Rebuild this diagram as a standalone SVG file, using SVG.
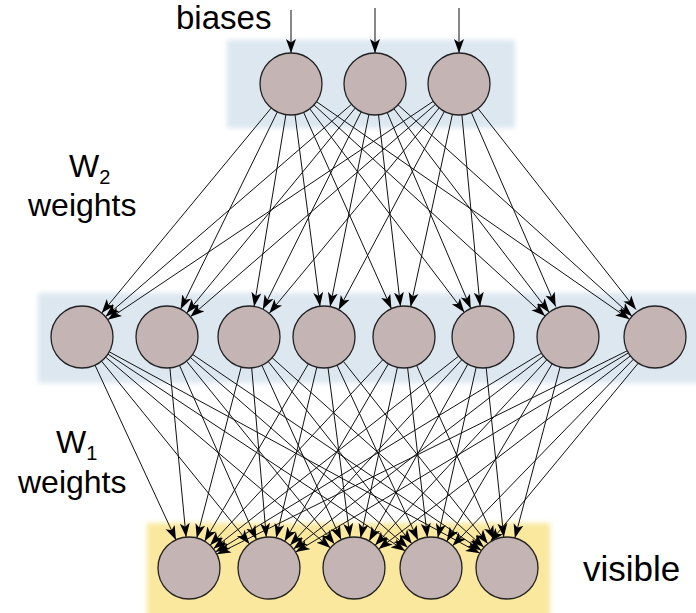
<svg xmlns="http://www.w3.org/2000/svg" width="696" height="613" viewBox="0 0 696 613">
<style>
.band-b{fill:#dce7f0}
.band-y{fill:#f9e89d}
.node{fill:#c4b4b4;stroke:#222;stroke-width:1.3}
.edge{stroke:#111;stroke-width:1;fill:none;marker-end:url(#ah)}
.lbl{font-family:"Liberation Sans",Arial,sans-serif;fill:#000}
</style>
<defs>
<filter id="soft" x="-5%" y="-10%" width="110%" height="120%"><feGaussianBlur stdDeviation="2.5"/></filter>
<marker id="ah" viewBox="0 -6 14 12" refX="14" refY="0" markerWidth="14" markerHeight="12" markerUnits="userSpaceOnUse" orient="auto">
<path d="M0,-5 L14,0 L0,5 L3.5,0 Z" fill="#000"/>
</marker>
</defs>
<g id="bands">
<rect class="band-b" x="227" y="40" width="288" height="88" filter="url(#soft)"/>
<rect class="band-b" x="38" y="293" width="665" height="90" filter="url(#soft)"/>
<rect class="band-y" x="147" y="523" width="403" height="95" filter="url(#soft)"/>
</g>
<g id="labels">
<text class="lbl" x="176" y="29" font-size="33">biases</text>
<text class="lbl" x="69" y="177" font-size="32">W<tspan font-size="20" dy="7">2</tspan></text>
<text class="lbl" x="28" y="216" font-size="32">weights</text>
<text class="lbl" x="56" y="453" font-size="32">W<tspan font-size="20" dy="7">1</tspan></text>
<text class="lbl" x="18" y="493" font-size="32">weights</text>
<text class="lbl" x="583" y="581" font-size="35">visible</text>
</g>
<g id="connectors">
<line class="edge" x1="291" y1="10" x2="291" y2="53"/>
<line class="edge" x1="375" y1="8" x2="375" y2="53"/>
<line class="edge" x1="459" y1="8" x2="459" y2="53"/>
<line class="edge" x1="271.3" y1="107.9" x2="101.7" y2="313.1"/>
<line class="edge" x1="277.4" y1="111.8" x2="180.6" y2="309.2"/>
<line class="edge" x1="285.9" y1="114.6" x2="254.1" y2="306.4"/>
<line class="edge" x1="295.0" y1="114.7" x2="320.0" y2="306.3"/>
<line class="edge" x1="303.6" y1="112.3" x2="391.4" y2="308.7"/>
<line class="edge" x1="309.7" y1="108.7" x2="464.3" y2="312.3"/>
<line class="edge" x1="313.9" y1="104.9" x2="545.1" y2="316.1"/>
<line class="edge" x1="316.5" y1="101.7" x2="629.5" y2="319.3"/>
<line class="edge" x1="351.5" y1="104.3" x2="105.5" y2="316.7"/>
<line class="edge" x1="355.3" y1="108.0" x2="186.7" y2="313.1"/>
<line class="edge" x1="361.2" y1="111.8" x2="262.8" y2="309.3"/>
<line class="edge" x1="368.9" y1="114.4" x2="330.1" y2="306.6"/>
<line class="edge" x1="378.5" y1="114.8" x2="400.5" y2="306.2"/>
<line class="edge" x1="387.2" y1="112.5" x2="470.8" y2="308.5"/>
<line class="edge" x1="393.8" y1="108.6" x2="549.2" y2="312.4"/>
<line class="edge" x1="398.0" y1="104.8" x2="632.0" y2="316.2"/>
<line class="edge" x1="433.3" y1="101.3" x2="107.7" y2="319.7"/>
<line class="edge" x1="435.6" y1="104.3" x2="190.4" y2="316.7"/>
<line class="edge" x1="439.2" y1="107.9" x2="269.3" y2="313.2"/>
<line class="edge" x1="444.4" y1="111.4" x2="338.6" y2="309.7"/>
<line class="edge" x1="452.4" y1="114.3" x2="410.6" y2="306.7"/>
<line class="edge" x1="461.9" y1="114.9" x2="480.1" y2="306.1"/>
<line class="edge" x1="471.3" y1="112.5" x2="555.7" y2="306.5"/>
<line class="edge" x1="478.0" y1="108.5" x2="636.0" y2="309.5"/>
<line class="edge" x1="95.0" y1="365.1" x2="176.0" y2="539.9"/>
<line class="edge" x1="101.5" y1="361.1" x2="249.5" y2="543.9"/>
<line class="edge" x1="105.6" y1="357.1" x2="330.4" y2="547.9"/>
<line class="edge" x1="107.9" y1="354.1" x2="405.2" y2="550.9"/>
<line class="edge" x1="109.2" y1="351.8" x2="479.8" y2="553.2"/>
<line class="edge" x1="169.9" y1="367.9" x2="186.1" y2="537.1"/>
<line class="edge" x1="179.5" y1="365.4" x2="256.5" y2="539.6"/>
<line class="edge" x1="186.5" y1="361.1" x2="334.5" y2="543.9"/>
<line class="edge" x1="190.3" y1="357.4" x2="407.7" y2="547.6"/>
<line class="edge" x1="192.6" y1="354.4" x2="481.4" y2="550.6"/>
<line class="edge" x1="241.2" y1="367.0" x2="196.8" y2="538.0"/>
<line class="edge" x1="251.7" y1="367.9" x2="266.3" y2="537.1"/>
<line class="edge" x1="261.8" y1="365.2" x2="341.2" y2="539.8"/>
<line class="edge" x1="268.2" y1="361.4" x2="411.8" y2="543.7"/>
<line class="edge" x1="272.1" y1="357.7" x2="483.9" y2="547.3"/>
<line class="edge" x1="308.4" y1="363.8" x2="204.6" y2="541.2"/>
<line class="edge" x1="316.8" y1="367.2" x2="276.2" y2="537.8"/>
<line class="edge" x1="328.0" y1="367.7" x2="350.0" y2="537.3"/>
<line class="edge" x1="337.0" y1="365.1" x2="418.0" y2="539.9"/>
<line class="edge" x1="343.3" y1="361.3" x2="487.8" y2="543.7"/>
<line class="edge" x1="382.9" y1="359.7" x2="210.1" y2="545.3"/>
<line class="edge" x1="388.4" y1="363.8" x2="284.6" y2="541.2"/>
<line class="edge" x1="397.4" y1="367.3" x2="360.6" y2="537.7"/>
<line class="edge" x1="407.6" y1="367.8" x2="427.4" y2="537.2"/>
<line class="edge" x1="416.6" y1="365.3" x2="494.4" y2="539.7"/>
<line class="edge" x1="458.6" y1="356.2" x2="213.4" y2="548.8"/>
<line class="edge" x1="461.9" y1="359.7" x2="290.1" y2="545.3"/>
<line class="edge" x1="467.9" y1="364.1" x2="369.1" y2="540.9"/>
<line class="edge" x1="476.2" y1="367.2" x2="437.8" y2="537.8"/>
<line class="edge" x1="486.2" y1="367.8" x2="503.8" y2="537.2"/>
<line class="edge" x1="541.5" y1="353.1" x2="215.5" y2="551.9"/>
<line class="edge" x1="543.5" y1="356.0" x2="293.5" y2="549.1"/>
<line class="edge" x1="546.9" y1="359.7" x2="375.1" y2="545.3"/>
<line class="edge" x1="552.2" y1="363.7" x2="446.8" y2="541.3"/>
<line class="edge" x1="560.1" y1="367.0" x2="514.9" y2="538.0"/>
<line class="edge" x1="627.2" y1="350.8" x2="216.8" y2="554.2"/>
<line class="edge" x1="628.4" y1="352.9" x2="295.6" y2="552.1"/>
<line class="edge" x1="630.4" y1="355.9" x2="378.6" y2="549.1"/>
<line class="edge" x1="633.4" y1="359.3" x2="452.6" y2="545.7"/>
<line class="edge" x1="638.3" y1="363.1" x2="490.3" y2="541.9"/>
</g>
<g id="h1"><circle class="node" cx="291" cy="84" r="31"/></g>
<g id="h2"><circle class="node" cx="375" cy="84" r="31"/></g>
<g id="h3"><circle class="node" cx="459" cy="84" r="31"/></g>
<g id="m1"><circle class="node" cx="82" cy="337" r="31"/></g>
<g id="m2"><circle class="node" cx="167" cy="337" r="31"/></g>
<g id="m3"><circle class="node" cx="249" cy="337" r="31"/></g>
<g id="m4"><circle class="node" cx="324" cy="337" r="31"/></g>
<g id="m5"><circle class="node" cx="404" cy="337" r="31"/></g>
<g id="m6"><circle class="node" cx="483" cy="337" r="31"/></g>
<g id="m7"><circle class="node" cx="568" cy="337" r="31"/></g>
<g id="m8"><circle class="node" cx="655" cy="337" r="31"/></g>
<g id="v1"><circle class="node" cx="189" cy="568" r="31"/></g>
<g id="v2"><circle class="node" cx="269" cy="568" r="31"/></g>
<g id="v3"><circle class="node" cx="354" cy="568" r="31"/></g>
<g id="v4"><circle class="node" cx="431" cy="568" r="31"/></g>
<g id="v5"><circle class="node" cx="507" cy="568" r="31"/></g>
</svg>
